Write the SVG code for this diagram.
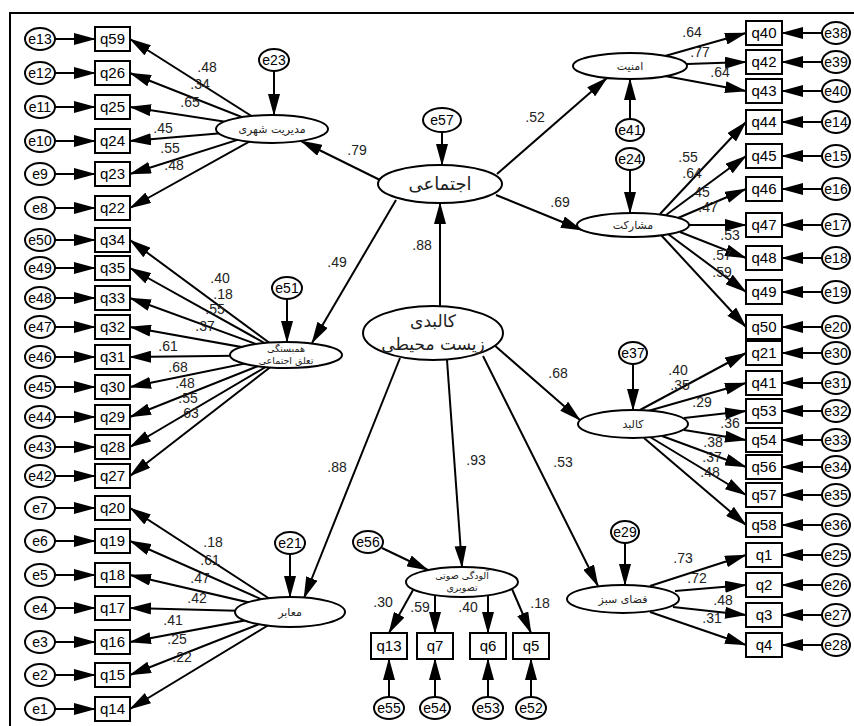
<svg xmlns="http://www.w3.org/2000/svg" width="854" height="726" viewBox="0 0 854 726">
<defs>
<marker id="ah" markerUnits="userSpaceOnUse" markerWidth="22" markerHeight="12" refX="21" refY="6" orient="auto"><path d="M0,0 L22,6 L0,12 z" fill="#000"/></marker>
<style>
.ln{stroke:#000;stroke-width:2;fill:none;marker-end:url(#ah)}
.bx{fill:#fff;stroke:#000;stroke-width:2}
.el{fill:#fff;stroke:#000;stroke-width:2}
.t{font-family:"Liberation Sans",Arial,sans-serif;font-size:15px;text-anchor:middle;fill:#000}
.et{font-family:"Liberation Sans",Arial,sans-serif;font-size:14px;text-anchor:middle;fill:#000}
.c{font-family:"Liberation Sans",Arial,sans-serif;font-size:14px;text-anchor:middle;fill:#222}
.fa{font-family:"DejaVu Sans","Noto Sans",sans-serif;text-anchor:middle;fill:#222}
</style>
</defs>
<rect x="0" y="0" width="854" height="726" fill="#fff"/>
<rect x="10" y="13" width="860" height="730" fill="none" stroke="#000" stroke-width="2"/>
<g id="connectors">
<line class="ln" x1="55" y1="39" x2="95" y2="39"/>
<line class="ln" x1="55" y1="73" x2="95" y2="73"/>
<line class="ln" x1="55" y1="107" x2="95" y2="107"/>
<line class="ln" x1="55" y1="141" x2="95" y2="141"/>
<line class="ln" x1="55" y1="174" x2="95" y2="174"/>
<line class="ln" x1="55" y1="208" x2="95" y2="208"/>
<line class="ln" x1="55" y1="240" x2="95" y2="240"/>
<line class="ln" x1="55" y1="268" x2="95" y2="268"/>
<line class="ln" x1="55" y1="298" x2="95" y2="298"/>
<line class="ln" x1="55" y1="327" x2="95" y2="327"/>
<line class="ln" x1="55" y1="357" x2="95" y2="357"/>
<line class="ln" x1="55" y1="387" x2="95" y2="387"/>
<line class="ln" x1="55" y1="417" x2="95" y2="417"/>
<line class="ln" x1="55" y1="447" x2="95" y2="447"/>
<line class="ln" x1="55" y1="476" x2="95" y2="476"/>
<line class="ln" x1="55" y1="508" x2="95" y2="508"/>
<line class="ln" x1="55" y1="541" x2="95" y2="541"/>
<line class="ln" x1="55" y1="575" x2="95" y2="575"/>
<line class="ln" x1="55" y1="608" x2="95" y2="608"/>
<line class="ln" x1="55" y1="642" x2="95" y2="642"/>
<line class="ln" x1="55" y1="675" x2="95" y2="675"/>
<line class="ln" x1="55" y1="709" x2="95" y2="709"/>
<line class="ln" x1="272" y1="129" x2="130" y2="39"/>
<line class="ln" x1="272" y1="129" x2="130" y2="73"/>
<line class="ln" x1="272" y1="129" x2="130" y2="107"/>
<line class="ln" x1="272" y1="129" x2="130" y2="141"/>
<line class="ln" x1="272" y1="129" x2="130" y2="174"/>
<line class="ln" x1="272" y1="129" x2="130" y2="208"/>
<line class="ln" x1="286" y1="355" x2="130" y2="240"/>
<line class="ln" x1="286" y1="355" x2="130" y2="268"/>
<line class="ln" x1="286" y1="355" x2="130" y2="298"/>
<line class="ln" x1="286" y1="355" x2="130" y2="327"/>
<line class="ln" x1="286" y1="355" x2="130" y2="357"/>
<line class="ln" x1="286" y1="355" x2="130" y2="387"/>
<line class="ln" x1="286" y1="355" x2="130" y2="417"/>
<line class="ln" x1="286" y1="355" x2="130" y2="447"/>
<line class="ln" x1="286" y1="355" x2="130" y2="476"/>
<line class="ln" x1="290" y1="612" x2="130" y2="508"/>
<line class="ln" x1="290" y1="612" x2="130" y2="541"/>
<line class="ln" x1="290" y1="612" x2="130" y2="575"/>
<line class="ln" x1="290" y1="612" x2="130" y2="608"/>
<line class="ln" x1="290" y1="612" x2="130" y2="642"/>
<line class="ln" x1="290" y1="612" x2="130" y2="675"/>
<line class="ln" x1="290" y1="612" x2="130" y2="709"/>
<line class="ln" x1="822" y1="33" x2="782" y2="33"/>
<line class="ln" x1="822" y1="62" x2="782" y2="62"/>
<line class="ln" x1="822" y1="91" x2="782" y2="91"/>
<line class="ln" x1="822" y1="122" x2="782" y2="122"/>
<line class="ln" x1="822" y1="156" x2="782" y2="156"/>
<line class="ln" x1="822" y1="189" x2="782" y2="189"/>
<line class="ln" x1="822" y1="225" x2="782" y2="225"/>
<line class="ln" x1="822" y1="258" x2="782" y2="258"/>
<line class="ln" x1="822" y1="292" x2="782" y2="292"/>
<line class="ln" x1="822" y1="327" x2="782" y2="327"/>
<line class="ln" x1="822" y1="353" x2="782" y2="353"/>
<line class="ln" x1="822" y1="383" x2="782" y2="383"/>
<line class="ln" x1="822" y1="411" x2="782" y2="411"/>
<line class="ln" x1="822" y1="440" x2="782" y2="440"/>
<line class="ln" x1="822" y1="467" x2="782" y2="467"/>
<line class="ln" x1="822" y1="495" x2="782" y2="495"/>
<line class="ln" x1="822" y1="525" x2="782" y2="525"/>
<line class="ln" x1="822" y1="555" x2="782" y2="555"/>
<line class="ln" x1="822" y1="585" x2="782" y2="585"/>
<line class="ln" x1="822" y1="615" x2="782" y2="615"/>
<line class="ln" x1="822" y1="645" x2="782" y2="645"/>
<line class="ln" x1="665" y1="56" x2="746" y2="33"/>
<line class="ln" x1="687" y1="64" x2="746" y2="62"/>
<line class="ln" x1="665" y1="76" x2="746" y2="91"/>
<line class="ln" x1="660" y1="214" x2="746" y2="122"/>
<line class="ln" x1="666" y1="215" x2="746" y2="156"/>
<line class="ln" x1="678" y1="218" x2="746" y2="189"/>
<line class="ln" x1="689" y1="225" x2="746" y2="225"/>
<line class="ln" x1="680" y1="232" x2="746" y2="258"/>
<line class="ln" x1="668" y1="234" x2="746" y2="292"/>
<line class="ln" x1="661" y1="235" x2="746" y2="327"/>
<line class="ln" x1="640" y1="410" x2="746" y2="353"/>
<line class="ln" x1="648" y1="411" x2="746" y2="383"/>
<line class="ln" x1="684" y1="418" x2="746" y2="411"/>
<line class="ln" x1="684" y1="430" x2="746" y2="440"/>
<line class="ln" x1="662" y1="436" x2="746" y2="467"/>
<line class="ln" x1="650" y1="437" x2="746" y2="495"/>
<line class="ln" x1="644" y1="438" x2="746" y2="525"/>
<line class="ln" x1="650" y1="586" x2="746" y2="555"/>
<line class="ln" x1="675" y1="591" x2="746" y2="585"/>
<line class="ln" x1="673" y1="607" x2="746" y2="615"/>
<line class="ln" x1="650" y1="612" x2="746" y2="645"/>
<line class="ln" x1="413" y1="590" x2="389" y2="633"/>
<line class="ln" x1="435" y1="595" x2="435" y2="633"/>
<line class="ln" x1="488" y1="595" x2="488" y2="633"/>
<line class="ln" x1="512" y1="589" x2="531" y2="633"/>
<line class="ln" x1="389" y1="697" x2="389" y2="659"/>
<line class="ln" x1="435" y1="697" x2="435" y2="659"/>
<line class="ln" x1="488" y1="697" x2="488" y2="659"/>
<line class="ln" x1="531" y1="697" x2="531" y2="659"/>
<line class="ln" x1="274" y1="71" x2="274" y2="115"/>
<line class="ln" x1="287" y1="299" x2="287" y2="342"/>
<line class="ln" x1="290" y1="554" x2="290" y2="597"/>
<line class="ln" x1="442" y1="132" x2="442" y2="165"/>
<line class="ln" x1="630" y1="119" x2="630" y2="79"/>
<line class="ln" x1="630" y1="170" x2="630" y2="213"/>
<line class="ln" x1="633" y1="364" x2="633" y2="410"/>
<line class="ln" x1="625" y1="543" x2="625" y2="585"/>
<line class="ln" x1="382" y1="548" x2="428" y2="570"/>
<line class="ln" x1="440" y1="306" x2="440" y2="203"/>
<line class="ln" x1="380" y1="180" x2="301" y2="141"/>
<line class="ln" x1="396" y1="200" x2="312" y2="343"/>
<line class="ln" x1="497" y1="174" x2="607" y2="78"/>
<line class="ln" x1="496" y1="195" x2="582" y2="230"/>
<line class="ln" x1="493" y1="344" x2="580" y2="420"/>
<line class="ln" x1="483" y1="356" x2="598" y2="586"/>
<line class="ln" x1="447" y1="360" x2="462" y2="567"/>
<line class="ln" x1="400" y1="358" x2="304" y2="598"/>
</g>
<g id="labels">
<text class="c" x="207" y="72">.48</text>
<text class="c" x="200" y="89">.34</text>
<text class="c" x="190" y="107">.65</text>
<text class="c" x="163" y="133">.45</text>
<text class="c" x="170" y="153">.55</text>
<text class="c" x="174" y="170">.48</text>
<text class="c" x="220" y="283">.40</text>
<text class="c" x="223" y="299">.18</text>
<text class="c" x="215" y="314">.55</text>
<text class="c" x="205" y="331">.37</text>
<text class="c" x="168" y="351">.61</text>
<text class="c" x="178" y="372">.68</text>
<text class="c" x="185" y="388">.48</text>
<text class="c" x="188" y="403">.55</text>
<text class="c" x="189" y="418">.63</text>
<text class="c" x="213" y="547">.18</text>
<text class="c" x="210" y="565">.61</text>
<text class="c" x="200" y="583">.47</text>
<text class="c" x="197" y="603">.42</text>
<text class="c" x="173" y="625">.41</text>
<text class="c" x="177" y="644">.25</text>
<text class="c" x="182" y="662">.22</text>
<text class="c" x="692" y="37">.64</text>
<text class="c" x="700" y="57">.77</text>
<text class="c" x="720" y="77">.64</text>
<text class="c" x="688" y="162">.55</text>
<text class="c" x="692" y="178">.64</text>
<text class="c" x="700" y="197">.45</text>
<text class="c" x="708" y="212">.47</text>
<text class="c" x="730" y="240">.53</text>
<text class="c" x="722" y="260">.57</text>
<text class="c" x="722" y="277">.59</text>
<text class="c" x="678" y="375">.40</text>
<text class="c" x="680" y="390">.35</text>
<text class="c" x="702" y="407">.29</text>
<text class="c" x="730" y="428">.36</text>
<text class="c" x="713" y="447">.38</text>
<text class="c" x="712" y="462">.37</text>
<text class="c" x="710" y="477">.48</text>
<text class="c" x="683" y="563">.73</text>
<text class="c" x="697" y="583">.72</text>
<text class="c" x="723" y="605">.48</text>
<text class="c" x="712" y="623">.31</text>
<text class="c" x="383" y="607">.30</text>
<text class="c" x="420" y="612">.59</text>
<text class="c" x="468" y="612">.40</text>
<text class="c" x="540" y="608">.18</text>
<text class="c" x="535" y="122">.52</text>
<text class="c" x="357" y="155">.79</text>
<text class="c" x="337" y="267">.49</text>
<text class="c" x="422" y="250">.88</text>
<text class="c" x="560" y="207">.69</text>
<text class="c" x="558" y="378">.68</text>
<text class="c" x="337" y="472">.88</text>
<text class="c" x="476" y="465">.93</text>
<text class="c" x="563" y="467">.53</text>
</g>
<g id="e13"><ellipse class="el" cx="40" cy="39" rx="15" ry="11"/><text class="et" x="40" y="44">e13</text></g>
<g id="q59"><rect class="bx" x="95" y="27" width="35" height="24"/><text class="t" x="112.5" y="44">q59</text></g>
<g id="e12"><ellipse class="el" cx="40" cy="73" rx="15" ry="11"/><text class="et" x="40" y="78">e12</text></g>
<g id="q26"><rect class="bx" x="95" y="61" width="35" height="24"/><text class="t" x="112.5" y="78">q26</text></g>
<g id="e11"><ellipse class="el" cx="40" cy="107" rx="15" ry="11"/><text class="et" x="40" y="112">e11</text></g>
<g id="q25"><rect class="bx" x="95" y="95" width="35" height="24"/><text class="t" x="112.5" y="112">q25</text></g>
<g id="e10"><ellipse class="el" cx="40" cy="141" rx="15" ry="11"/><text class="et" x="40" y="146">e10</text></g>
<g id="q24"><rect class="bx" x="95" y="129" width="35" height="24"/><text class="t" x="112.5" y="146">q24</text></g>
<g id="e9"><ellipse class="el" cx="40" cy="174" rx="15" ry="11"/><text class="et" x="40" y="179">e9</text></g>
<g id="q23"><rect class="bx" x="95" y="162" width="35" height="24"/><text class="t" x="112.5" y="179">q23</text></g>
<g id="e8"><ellipse class="el" cx="40" cy="208" rx="15" ry="11"/><text class="et" x="40" y="213">e8</text></g>
<g id="q22"><rect class="bx" x="95" y="196" width="35" height="24"/><text class="t" x="112.5" y="213">q22</text></g>
<g id="e50"><ellipse class="el" cx="40" cy="240" rx="15" ry="11"/><text class="et" x="40" y="245">e50</text></g>
<g id="q34"><rect class="bx" x="95" y="228" width="35" height="24"/><text class="t" x="112.5" y="245">q34</text></g>
<g id="e49"><ellipse class="el" cx="40" cy="268" rx="15" ry="11"/><text class="et" x="40" y="273">e49</text></g>
<g id="q35"><rect class="bx" x="95" y="256" width="35" height="24"/><text class="t" x="112.5" y="273">q35</text></g>
<g id="e48"><ellipse class="el" cx="40" cy="298" rx="15" ry="11"/><text class="et" x="40" y="303">e48</text></g>
<g id="q33"><rect class="bx" x="95" y="286" width="35" height="24"/><text class="t" x="112.5" y="303">q33</text></g>
<g id="e47"><ellipse class="el" cx="40" cy="327" rx="15" ry="11"/><text class="et" x="40" y="332">e47</text></g>
<g id="q32"><rect class="bx" x="95" y="315" width="35" height="24"/><text class="t" x="112.5" y="332">q32</text></g>
<g id="e46"><ellipse class="el" cx="40" cy="357" rx="15" ry="11"/><text class="et" x="40" y="362">e46</text></g>
<g id="q31"><rect class="bx" x="95" y="345" width="35" height="24"/><text class="t" x="112.5" y="362">q31</text></g>
<g id="e45"><ellipse class="el" cx="40" cy="387" rx="15" ry="11"/><text class="et" x="40" y="392">e45</text></g>
<g id="q30"><rect class="bx" x="95" y="375" width="35" height="24"/><text class="t" x="112.5" y="392">q30</text></g>
<g id="e44"><ellipse class="el" cx="40" cy="417" rx="15" ry="11"/><text class="et" x="40" y="422">e44</text></g>
<g id="q29"><rect class="bx" x="95" y="405" width="35" height="24"/><text class="t" x="112.5" y="422">q29</text></g>
<g id="e43"><ellipse class="el" cx="40" cy="447" rx="15" ry="11"/><text class="et" x="40" y="452">e43</text></g>
<g id="q28"><rect class="bx" x="95" y="435" width="35" height="24"/><text class="t" x="112.5" y="452">q28</text></g>
<g id="e42"><ellipse class="el" cx="40" cy="476" rx="15" ry="11"/><text class="et" x="40" y="481">e42</text></g>
<g id="q27"><rect class="bx" x="95" y="464" width="35" height="24"/><text class="t" x="112.5" y="481">q27</text></g>
<g id="e7"><ellipse class="el" cx="40" cy="508" rx="15" ry="11"/><text class="et" x="40" y="513">e7</text></g>
<g id="q20"><rect class="bx" x="95" y="496" width="35" height="24"/><text class="t" x="112.5" y="513">q20</text></g>
<g id="e6"><ellipse class="el" cx="40" cy="541" rx="15" ry="11"/><text class="et" x="40" y="546">e6</text></g>
<g id="q19"><rect class="bx" x="95" y="529" width="35" height="24"/><text class="t" x="112.5" y="546">q19</text></g>
<g id="e5"><ellipse class="el" cx="40" cy="575" rx="15" ry="11"/><text class="et" x="40" y="580">e5</text></g>
<g id="q18"><rect class="bx" x="95" y="563" width="35" height="24"/><text class="t" x="112.5" y="580">q18</text></g>
<g id="e4"><ellipse class="el" cx="40" cy="608" rx="15" ry="11"/><text class="et" x="40" y="613">e4</text></g>
<g id="q17"><rect class="bx" x="95" y="596" width="35" height="24"/><text class="t" x="112.5" y="613">q17</text></g>
<g id="e3"><ellipse class="el" cx="40" cy="642" rx="15" ry="11"/><text class="et" x="40" y="647">e3</text></g>
<g id="q16"><rect class="bx" x="95" y="630" width="35" height="24"/><text class="t" x="112.5" y="647">q16</text></g>
<g id="e2"><ellipse class="el" cx="40" cy="675" rx="15" ry="11"/><text class="et" x="40" y="680">e2</text></g>
<g id="q15"><rect class="bx" x="95" y="663" width="35" height="24"/><text class="t" x="112.5" y="680">q15</text></g>
<g id="e1"><ellipse class="el" cx="40" cy="709" rx="15" ry="11"/><text class="et" x="40" y="714">e1</text></g>
<g id="q14"><rect class="bx" x="95" y="697" width="35" height="24"/><text class="t" x="112.5" y="714">q14</text></g>
<g id="q40"><rect class="bx" x="746" y="21" width="36" height="24"/><text class="t" x="764" y="38">q40</text></g>
<g id="e38"><ellipse class="el" cx="836" cy="33" rx="14" ry="11"/><text class="et" x="836" y="38">e38</text></g>
<g id="q42"><rect class="bx" x="746" y="50" width="36" height="24"/><text class="t" x="764" y="67">q42</text></g>
<g id="e39"><ellipse class="el" cx="836" cy="62" rx="14" ry="11"/><text class="et" x="836" y="67">e39</text></g>
<g id="q43"><rect class="bx" x="746" y="79" width="36" height="24"/><text class="t" x="764" y="96">q43</text></g>
<g id="e40"><ellipse class="el" cx="836" cy="91" rx="14" ry="11"/><text class="et" x="836" y="96">e40</text></g>
<g id="q44"><rect class="bx" x="746" y="110" width="36" height="24"/><text class="t" x="764" y="127">q44</text></g>
<g id="e14"><ellipse class="el" cx="836" cy="122" rx="14" ry="11"/><text class="et" x="836" y="127">e14</text></g>
<g id="q45"><rect class="bx" x="746" y="144" width="36" height="24"/><text class="t" x="764" y="161">q45</text></g>
<g id="e15"><ellipse class="el" cx="836" cy="156" rx="14" ry="11"/><text class="et" x="836" y="161">e15</text></g>
<g id="q46"><rect class="bx" x="746" y="177" width="36" height="24"/><text class="t" x="764" y="194">q46</text></g>
<g id="e16"><ellipse class="el" cx="836" cy="189" rx="14" ry="11"/><text class="et" x="836" y="194">e16</text></g>
<g id="q47"><rect class="bx" x="746" y="213" width="36" height="24"/><text class="t" x="764" y="230">q47</text></g>
<g id="e17"><ellipse class="el" cx="836" cy="225" rx="14" ry="11"/><text class="et" x="836" y="230">e17</text></g>
<g id="q48"><rect class="bx" x="746" y="246" width="36" height="24"/><text class="t" x="764" y="263">q48</text></g>
<g id="e18"><ellipse class="el" cx="836" cy="258" rx="14" ry="11"/><text class="et" x="836" y="263">e18</text></g>
<g id="q49"><rect class="bx" x="746" y="280" width="36" height="24"/><text class="t" x="764" y="297">q49</text></g>
<g id="e19"><ellipse class="el" cx="836" cy="292" rx="14" ry="11"/><text class="et" x="836" y="297">e19</text></g>
<g id="q50"><rect class="bx" x="746" y="315" width="36" height="24"/><text class="t" x="764" y="332">q50</text></g>
<g id="e20"><ellipse class="el" cx="836" cy="327" rx="14" ry="11"/><text class="et" x="836" y="332">e20</text></g>
<g id="q21"><rect class="bx" x="746" y="341" width="36" height="24"/><text class="t" x="764" y="358">q21</text></g>
<g id="e30"><ellipse class="el" cx="836" cy="353" rx="14" ry="11"/><text class="et" x="836" y="358">e30</text></g>
<g id="q41"><rect class="bx" x="746" y="371" width="36" height="24"/><text class="t" x="764" y="388">q41</text></g>
<g id="e31"><ellipse class="el" cx="836" cy="383" rx="14" ry="11"/><text class="et" x="836" y="388">e31</text></g>
<g id="q53"><rect class="bx" x="746" y="399" width="36" height="24"/><text class="t" x="764" y="416">q53</text></g>
<g id="e32"><ellipse class="el" cx="836" cy="411" rx="14" ry="11"/><text class="et" x="836" y="416">e32</text></g>
<g id="q54"><rect class="bx" x="746" y="428" width="36" height="24"/><text class="t" x="764" y="445">q54</text></g>
<g id="e33"><ellipse class="el" cx="836" cy="440" rx="14" ry="11"/><text class="et" x="836" y="445">e33</text></g>
<g id="q56"><rect class="bx" x="746" y="455" width="36" height="24"/><text class="t" x="764" y="472">q56</text></g>
<g id="e34"><ellipse class="el" cx="836" cy="467" rx="14" ry="11"/><text class="et" x="836" y="472">e34</text></g>
<g id="q57"><rect class="bx" x="746" y="483" width="36" height="24"/><text class="t" x="764" y="500">q57</text></g>
<g id="e35"><ellipse class="el" cx="836" cy="495" rx="14" ry="11"/><text class="et" x="836" y="500">e35</text></g>
<g id="q58"><rect class="bx" x="746" y="513" width="36" height="24"/><text class="t" x="764" y="530">q58</text></g>
<g id="e36"><ellipse class="el" cx="836" cy="525" rx="14" ry="11"/><text class="et" x="836" y="530">e36</text></g>
<g id="q1"><rect class="bx" x="746" y="543" width="36" height="24"/><text class="t" x="764" y="560">q1</text></g>
<g id="e25"><ellipse class="el" cx="836" cy="555" rx="14" ry="11"/><text class="et" x="836" y="560">e25</text></g>
<g id="q2"><rect class="bx" x="746" y="573" width="36" height="24"/><text class="t" x="764" y="590">q2</text></g>
<g id="e26"><ellipse class="el" cx="836" cy="585" rx="14" ry="11"/><text class="et" x="836" y="590">e26</text></g>
<g id="q3"><rect class="bx" x="746" y="603" width="36" height="24"/><text class="t" x="764" y="620">q3</text></g>
<g id="e27"><ellipse class="el" cx="836" cy="615" rx="14" ry="11"/><text class="et" x="836" y="620">e27</text></g>
<g id="q4"><rect class="bx" x="746" y="633" width="36" height="24"/><text class="t" x="764" y="650">q4</text></g>
<g id="e28"><ellipse class="el" cx="836" cy="645" rx="14" ry="11"/><text class="et" x="836" y="650">e28</text></g>
<g id="q13"><rect class="bx" x="371" y="633" width="36" height="26"/><text class="t" x="389" y="651">q13</text></g>
<g id="q7"><rect class="bx" x="417" y="633" width="36" height="26"/><text class="t" x="435" y="651">q7</text></g>
<g id="q6"><rect class="bx" x="470" y="633" width="36" height="26"/><text class="t" x="488" y="651">q6</text></g>
<g id="q5"><rect class="bx" x="513" y="633" width="36" height="26"/><text class="t" x="531" y="651">q5</text></g>
<g id="e55"><ellipse class="el" cx="389" cy="708" rx="15" ry="11"/><text class="et" x="389" y="713">e55</text></g>
<g id="e54"><ellipse class="el" cx="435" cy="708" rx="15" ry="11"/><text class="et" x="435" y="713">e54</text></g>
<g id="e53"><ellipse class="el" cx="488" cy="708" rx="15" ry="11"/><text class="et" x="488" y="713">e53</text></g>
<g id="e52"><ellipse class="el" cx="531" cy="708" rx="15" ry="11"/><text class="et" x="531" y="713">e52</text></g>
<g id="e56"><ellipse class="el" cx="368" cy="542" rx="15" ry="11"/><text class="et" x="368" y="547">e56</text></g>
<g id="e23"><ellipse class="el" cx="274" cy="60" rx="15" ry="11"/><text class="et" x="274" y="65">e23</text></g>
<g id="e51"><ellipse class="el" cx="287" cy="288" rx="15" ry="11"/><text class="et" x="287" y="293">e51</text></g>
<g id="e21"><ellipse class="el" cx="290" cy="543" rx="15" ry="11"/><text class="et" x="290" y="548">e21</text></g>
<g id="e57"><ellipse class="el" cx="442" cy="120" rx="19" ry="12"/><text class="et" x="442" y="125">e57</text></g>
<g id="e41"><ellipse class="el" cx="630" cy="130" rx="14" ry="11"/><text class="et" x="630" y="135">e41</text></g>
<g id="e24"><ellipse class="el" cx="630" cy="159" rx="14" ry="11"/><text class="et" x="630" y="164">e24</text></g>
<g id="e37"><ellipse class="el" cx="633" cy="353" rx="14" ry="11"/><text class="et" x="633" y="358">e37</text></g>
<g id="e29"><ellipse class="el" cx="625" cy="532" rx="14" ry="11"/><text class="et" x="625" y="537">e29</text></g>
<g id="modiriat"><ellipse class="el" cx="272" cy="129" rx="56" ry="14"/><text class="fa" x="272" y="133" font-size="11">مدیریت شهری</text></g>
<g id="hambastegi"><ellipse class="el" cx="286" cy="355" rx="56" ry="13"/><text class="fa" x="286" y="352" font-size="9.5">همبستگی</text><text class="fa" x="286" y="364" font-size="9.5">تعلق اجتماعی</text></g>
<g id="maaber"><ellipse class="el" cx="290" cy="612" rx="55" ry="15"/><text class="fa" x="290" y="616" font-size="11">معابر</text></g>
<g id="ejtemaei"><ellipse class="el" cx="440" cy="184" rx="62" ry="19"/><text class="fa" x="440" y="190" font-size="18">اجتماعی</text></g>
<g id="kalbadi"><ellipse class="el" cx="433" cy="333" rx="70" ry="27"/><text class="fa" x="433" y="327" font-size="17">کالبدی</text><text class="fa" x="433" y="350" font-size="17">زیست محیطی</text></g>
<g id="aloodegi"><ellipse class="el" cx="462" cy="582" rx="56" ry="15"/><text class="fa" x="462" y="579" font-size="9.5">آلودگی صوتی</text><text class="fa" x="462" y="591" font-size="9.5">تصویری</text></g>
<g id="amniat"><ellipse class="el" cx="630" cy="66" rx="57" ry="13"/><text class="fa" x="630" y="70" font-size="11">امنیت</text></g>
<g id="mosharekat"><ellipse class="el" cx="633" cy="225" rx="56" ry="12"/><text class="fa" x="633" y="229" font-size="11">مشارکت</text></g>
<g id="kalbad"><ellipse class="el" cx="633" cy="424" rx="55" ry="14"/><text class="fa" x="633" y="428" font-size="11">کالبد</text></g>
<g id="fazaye-sabz"><ellipse class="el" cx="623" cy="599" rx="56" ry="14"/><text class="fa" x="623" y="603" font-size="11">فضای سبز</text></g>
</svg>
